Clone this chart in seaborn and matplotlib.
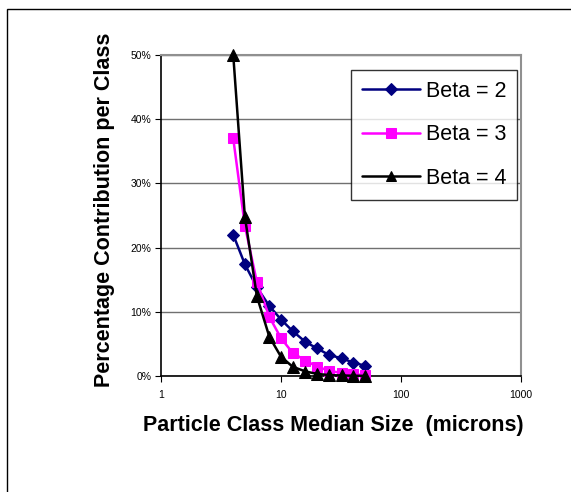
import matplotlib
matplotlib.use("Agg")
import matplotlib.pyplot as plt
import seaborn as sns
import pandas as pd
from matplotlib.ticker import PercentFormatter, LogLocator, FixedLocator, NullFormatter
from matplotlib.patches import Rectangle

sizes = [4, 5, 6.3, 8, 10, 12.5, 16, 20, 25, 32, 40, 50]
beta2 = [22.0, 17.4, 13.8, 10.9, 8.8, 7.0, 5.3, 4.3, 3.3, 2.75, 2.1, 1.6]
beta3 = [37.0, 23.4, 14.6, 9.2, 5.9, 3.6, 2.4, 1.45, 0.85, 0.45, 0.25, 0.15]
beta4 = [50.0, 24.8, 12.4, 6.1, 3.0, 1.45, 0.7, 0.33, 0.15, 0.08, 0.04, 0.02]
series_names = ["Beta = 2", "Beta = 3", "Beta = 4"]
x_ticks = [1, 10, 100, 1000]
y_ticks = [0, 10, 20, 30, 40, 50]

sns.set_theme(style="white")
plt.rcParams['font.family'] = ['Liberation Sans', 'DejaVu Sans']
plt.rcParams['text.color'] = 'black'
plt.rcParams['axes.labelcolor'] = 'black'
plt.rcParams['xtick.color'] = 'black'
plt.rcParams['ytick.color'] = 'black'

fig = plt.figure(figsize=(5.71, 4.92), dpi=100)
W, H = 571, 492
ax = fig.add_axes([161 / W, 1 - 376 / H, (521 - 161) / W, (376 - 55) / H])

# outer frame
fig.patches.append(Rectangle((7 / W, -0.1), 1.2, 1 - 9 / H + 0.1, transform=fig.transFigure,
                             fill=False, edgecolor="black", linewidth=1.0, zorder=0))

styles = [
    (beta2, "#000080", "D", 6.5),
    (beta3, "#FF00FF", "s", 7.5),
    (beta4, "#000000", "^", 8.5),
]
for name, (vals, col, mk, ms) in zip(series_names, styles):
    df = pd.DataFrame({"size": sizes, "pct": vals})
    sns.lineplot(data=df, x="size", y="pct", ax=ax, color=col, marker=mk, markersize=ms,
                 markeredgecolor=col, linewidth=1.8, label=name, zorder=3, clip_on=False)

ax.set_xscale("log")
ax.set_xlim(1, 1000)
ax.set_ylim(0, 50)
ax.xaxis.set_major_locator(FixedLocator(x_ticks))
ax.xaxis.set_minor_locator(LogLocator(base=10, subs=range(2, 10)))
ax.xaxis.set_minor_formatter(NullFormatter())
ax.set_xticklabels([str(t) for t in x_ticks])
ax.yaxis.set_major_locator(FixedLocator(y_ticks))
ax.yaxis.set_major_formatter(PercentFormatter(decimals=0))

ax.tick_params(axis="both", which="major", labelsize=7.5, direction="out", length=4,
               width=0.8, colors="black")
ax.tick_params(axis="x", which="minor", direction="out", length=2.5, width=0.8, color="black")
ax.tick_params(axis="x", which="major", bottom=True, pad=6)
ax.tick_params(axis="y", which="major", left=True, pad=3)

ax.grid(axis="y", color="#707070", linewidth=1.0)
ax.set_axisbelow(True)
for s in ["left", "bottom"]:
    ax.spines[s].set_color("black")
    ax.spines[s].set_linewidth(1.2)
for s in ["top", "right"]:
    ax.spines[s].set_color("#909090")
    ax.spines[s].set_linewidth(1.5)

ax.set_xlabel("Particle Class Median Size  (microns)", fontsize=15.5, fontweight="bold")
ax.set_ylabel("Percentage Contribution per Class", fontsize=15.5, fontweight="bold")
# label positions (axes coords)
ax.xaxis.set_label_coords((333 - 161) / 360, -(426 - 376) / 321)
ax.xaxis.label.set_va("center")
ax.yaxis.set_label_coords(-(161 - 105) / 360, (376 - 210) / 321)
ax.yaxis.label.set_va("center")

leg = ax.legend(loc="upper right", bbox_to_anchor=((517 - 161) / 360, (376 - 70) / 321),
                fontsize=15.5, frameon=True, fancybox=False, edgecolor="black",
                borderpad=0.5, labelspacing=1.05, handlelength=2.7, handletextpad=0.25,
                borderaxespad=0)
leg.get_frame().set_linewidth(1.0)
for h in leg.legend_handles:
    h.set_markersize(6.5)

fig.savefig("out.png", dpi=100)
